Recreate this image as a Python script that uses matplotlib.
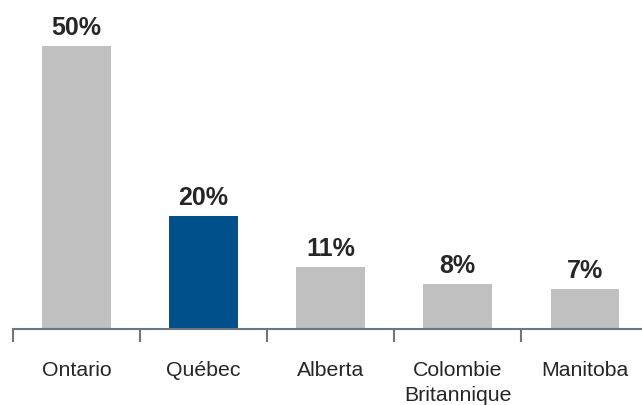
import matplotlib.pyplot as plt
import numpy as np

provinces = ["Ontario", "Québec", "Alberta", "Colombie\nBritannique", "Manitoba"]
shares = [50, 20, 11, 8, 7]
colors = ["#C0C0C0", "#00508C", "#C0C0C0", "#C0C0C0", "#C0C0C0"]

plt.rcParams['font.family'] = ['Liberation Sans', 'DejaVu Sans']

fig = plt.figure(figsize=(6.42, 4.06), dpi=100)
ax = fig.add_axes([13 / 642, 76 / 406, 629 / 642, 311 / 406])

x = np.arange(len(shares))
ax.bar(x, shares, width=0.54, color=colors)
for xi, v in zip(x, shares):
    ax.annotate(f"{v}%", (xi, v), xytext=(0, 8.6), textcoords="offset points",
                ha="center", va="baseline", fontsize=18, fontweight="bold", color="#262626")

# category names under the bars, tick marks between them
for xi, name in zip(x, provinces):
    ax.annotate(name, (xi, 0), xytext=(0, -22), textcoords="offset points",
                ha="center", va="top", fontsize=15.3, color="#262626", linespacing=1.45)
ax.set_xticks(x - 0.5)
ax.set_xticklabels([])
ax.tick_params(axis="x", direction="out", length=9.5, width=1.5, color="#6E7682")

ax.set_xlim(-0.5, 4.45)
ax.set_ylim(0, 55)
ax.set_yticks([])
for side in ["top", "right", "left"]:
    ax.spines[side].set_visible(False)
ax.spines["bottom"].set_color("#6E7682")
ax.spines["bottom"].set_linewidth(1.5)

fig.savefig("out.png", dpi=100)
